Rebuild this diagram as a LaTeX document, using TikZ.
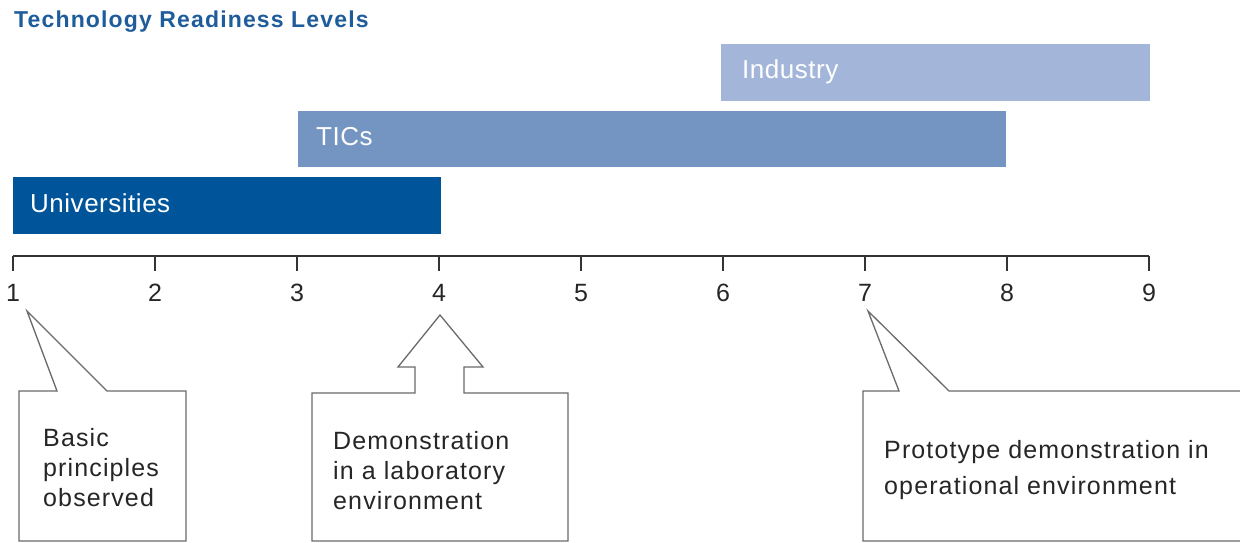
\documentclass[tikz,border=0pt]{standalone}
\usepackage{fontspec}
\setmainfont{Liberation Sans}
\newfontfamily\titlefont{Liberation Sans}[LetterSpace=5.0]
\newfontfamily\barfont{Liberation Sans}[LetterSpace=2.0]
\newfontfamily\callfont{Liberation Sans}[LetterSpace=4.5]
\definecolor{titleblue}{HTML}{1F5C9B}
\definecolor{univblue}{HTML}{00559A}
\definecolor{ticsblue}{HTML}{7494C2}
\definecolor{indblue}{HTML}{A3B6DA}
\definecolor{axisgray}{HTML}{333333}
\definecolor{boxgray}{HTML}{6A6A6A}
\definecolor{txtgray}{HTML}{262626}
\begin{document}
\begin{tikzpicture}[x=1pt,y=-1pt,
  bar/.style={draw=none, inner sep=0pt, anchor=north west},
  bartext/.style={text=white, font=\barfont\fontsize{26}{30}\selectfont, anchor=base west, inner sep=0pt},
  axisline/.style={draw=axisgray, line width=1.3pt},
  num/.style={font=\fontsize{25}{30}\selectfont, text=txtgray, anchor=base, inner sep=0pt},
  callout/.style={draw=boxgray, line width=1.3pt, fill=white, line join=miter},
  calltext/.style={text=txtgray, align=left, anchor=north west, inner sep=0pt}]
\useasboundingbox (0,0) rectangle (1240,543);
\clip (0,0) rectangle (1240,543);

% title
\node (title) [anchor=base west, inner sep=0pt, text=titleblue,
  font=\titlefont\bfseries\fontsize{23}{26}\selectfont] at (14,28) {Technology Readiness Levels};

% bars
\node (ind) [bar, fill=indblue, minimum width=429pt, minimum height=57pt] at (721,44) {};
\node (tics) [bar, fill=ticsblue, minimum width=708pt, minimum height=56pt] at (298,111) {};
\node (univ) [bar, fill=univblue, minimum width=428pt, minimum height=57pt] at (13,177) {};
\node (indt) [bartext] at (742,79) {Industry};
\node (ticst) [bartext] at (316,145) {TICs};
\node (univt) [bartext] at (30,212) {Universities};

% axis
\foreach \k in {1,...,9} {
  \coordinate (a\k) at ({13+142*(\k-1)},256);
  \coordinate (t\k) at ({13+142*(\k-1)},271);
}
\draw[axisline] (a1) -- (a9);
\foreach \k in {1,...,9} {
  \draw[axisline] (a\k) -- (t\k);
  \node (n\k) [num] at ({13+142*(\k-1)},301) {\k};
}

% callout 1
\draw[callout] (19,391) -- (57,391) -- (27,311) -- (107,391) -- (186,391)
  -- (186,541) -- (19,541) -- cycle;
\node (c1) [calltext, font=\callfont\fontsize{25}{30}\selectfont] at (43,428)
  {Basic\\principles\\observed};

% callout 2
\draw[callout] (312,393) -- (415,393) -- (415,367) -- (398,367) -- (440,315)
  -- (483,367) -- (464,367) -- (464,393) -- (568,393) -- (568,541) -- (312,541) -- cycle;
\node (c2) [calltext, font=\callfont\fontsize{25}{30}\selectfont] at (333,431)
  {Demonstration\\in a laboratory\\environment};

% callout 3
\draw[callout] (863,391) -- (899,391) -- (868,311) -- (949,391) -- (1260,391)
  -- (1260,541) -- (863,541) -- cycle;
\node (c3) [calltext, font=\callfont\fontsize{25}{36}\selectfont] at (884,440)
  {Prototype demonstration in\\operational environment};
\end{tikzpicture}
\end{document}
